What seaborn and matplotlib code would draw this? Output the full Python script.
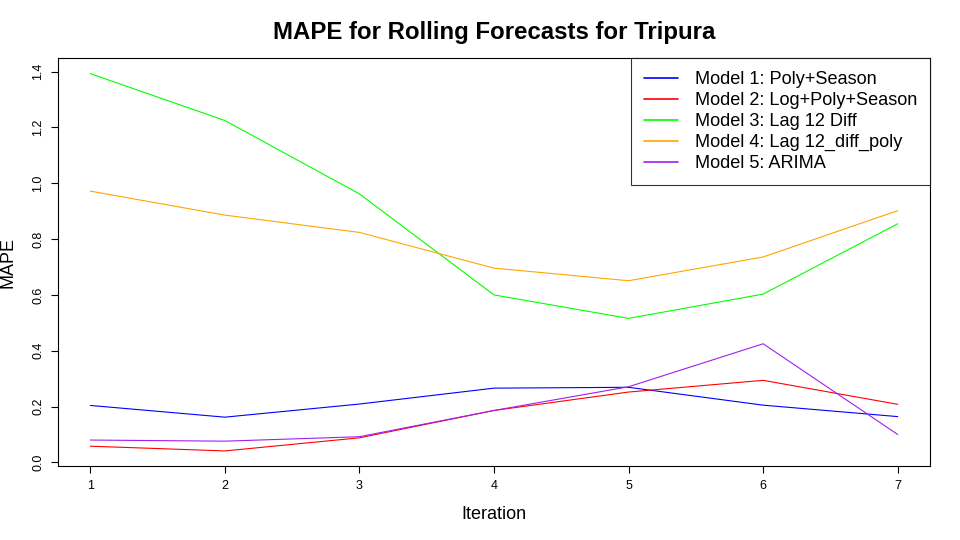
import seaborn as sns
import numpy as np
import pandas as pd
import matplotlib.pyplot as plt

iterations = [1, 2, 3, 4, 5, 6, 7]

# MAPE values
model1 = [0.204, 0.162, 0.209, 0.266, 0.269, 0.205, 0.164]
model2 = [0.058, 0.041, 0.088, 0.186, 0.252, 0.294, 0.208]
model3 = [1.393, 1.225, 0.962, 0.600, 0.516, 0.603, 0.855]
model4 = [0.972, 0.886, 0.824, 0.696, 0.651, 0.736, 0.902]
model5 = [0.080, 0.076, 0.092, 0.186, 0.271, 0.425, 0.100]

model_names = [
    "Model 1: Poly+Season",
    "Model 2: Log+Poly+Season",
    "Model 3: Lag 12 Diff",
    "Model 4: Lag 12_diff_poly",
    "Model 5: ARIMA",
]
colors = ["#0000FF", "#FF0000", "#00FF00", "#FFA500", "#A020F0"]


def plot_mape():
    series = [model1, model2, model3, model4, model5]
    df = pd.DataFrame({
        "Iteration": np.tile(iterations, len(series)),
        "MAPE": np.concatenate(series),
        "Model": np.repeat(model_names, len(iterations)),
    })

    sns.set_style("white")
    plt.rcParams["font.family"] = ["Liberation Sans", "DejaVu Sans"]
    plt.rcParams["text.color"] = "black"
    plt.rcParams["axes.labelcolor"] = "black"

    fig = plt.figure(figsize=(9.6, 5.4), dpi=100)
    ax = fig.add_axes([58 / 960, 74 / 540, 872 / 960, 408 / 540])
    sns.lineplot(data=df, x="Iteration", y="MAPE", hue="Model",
                 hue_order=model_names, palette=colors, linewidth=0.8, ax=ax)

    ax.set_xlim(0.76, 7.24)
    ax.set_ylim(-0.013, 1.449)
    ax.set_xticks(iterations)
    ax.set_yticks([0.0, 0.2, 0.4, 0.6, 0.8, 1.0, 1.2, 1.4])
    ax.set_yticklabels(["0.0", "0.2", "0.4", "0.6", "0.8", "1.0", "1.2", "1.4"],
                       rotation=90, va="center")
    ax.tick_params(axis="both", direction="out", length=5, width=0.8,
                   labelsize=9, colors="black", pad=5, left=True, bottom=True)
    for s in ax.spines.values():
        s.set_color("black")
        s.set_linewidth(0.8)

    ax.set_xlabel("Iteration", fontsize=13, labelpad=10)
    ax.set_ylabel("MAPE", fontsize=13, labelpad=11)
    ax.set_title("MAPE for Rolling Forecasts for Tripura", fontsize=17.3,
                 fontweight="bold", pad=14, color="black")

    leg = ax.legend(loc="upper right", fontsize=13.1, frameon=True,
                    fancybox=False, borderaxespad=0, handlelength=1.85,
                    handletextpad=0.9, labelspacing=0.22, borderpad=0.72)
    leg.get_frame().set_edgecolor("black")
    leg.get_frame().set_linewidth(0.8)
    for line in leg.get_lines():
        line.set_linewidth(1.2)

    fig.savefig("out.png", dpi=100)


if __name__ == "__main__":
    plot_mape()
